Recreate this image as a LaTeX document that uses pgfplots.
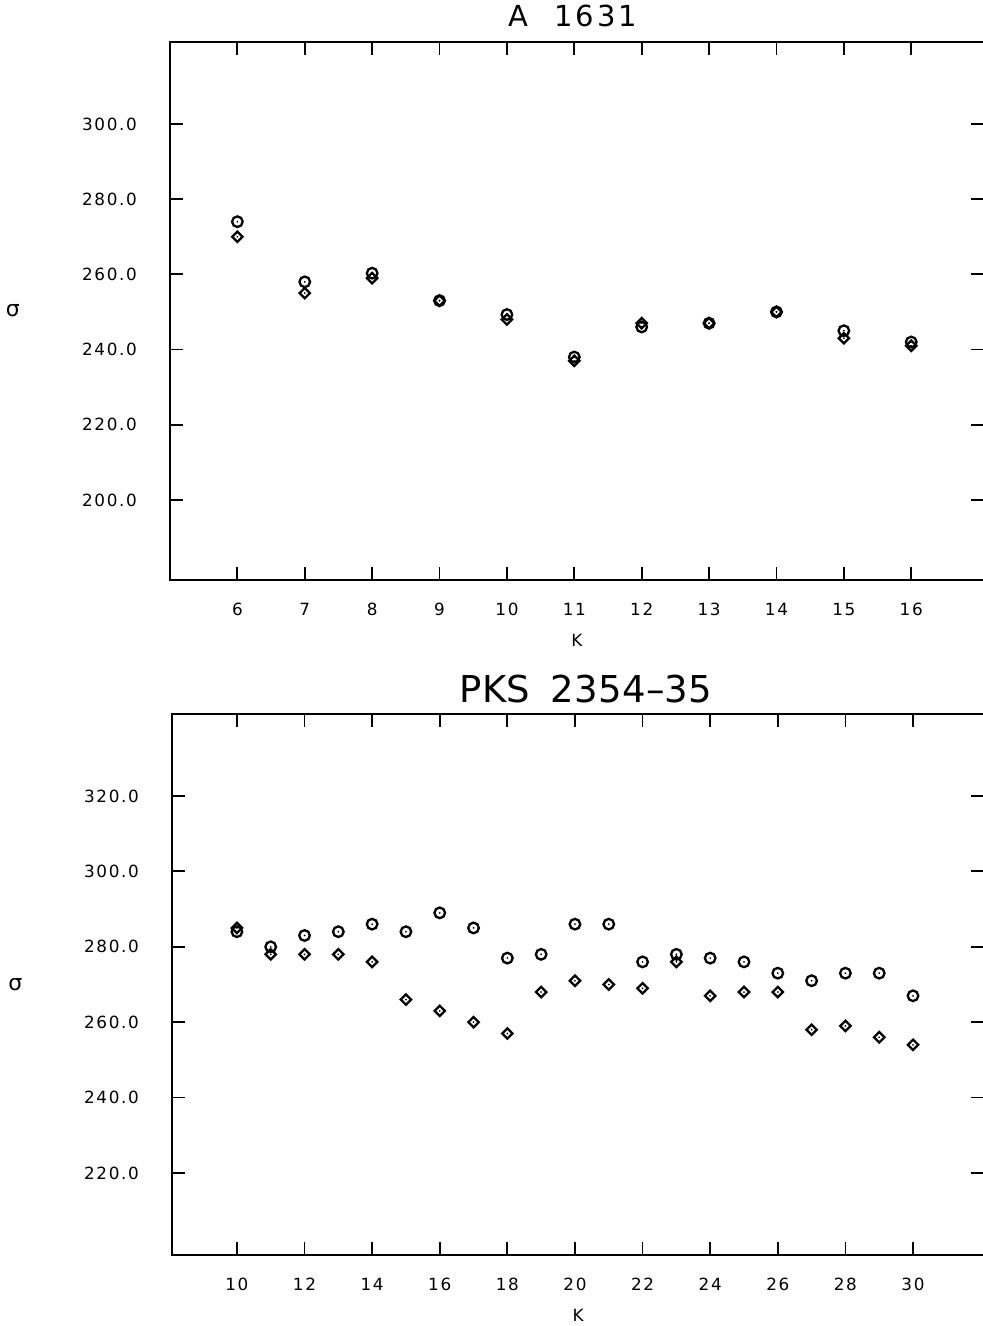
\documentclass[border=0pt]{standalone}
\usepackage{fontspec}
\setmainfont{DejaVu Sans}
\newfontfamily\tickfont[LetterSpace=10]{DejaVu Sans}
\newfontfamily\titlefontA[LetterSpace=10]{DejaVu Sans}
\newfontfamily\titlefontB[LetterSpace=1]{DejaVu Sans}
\usepackage{pgfplots}
\usepackage{pgfplotstable}
\pgfplotsset{compat=1.18}

\pgfdeclareplotmark{odot}{%
  \pgfpathcircle{\pgfpointorigin}{\pgfplotmarksize}\pgfusepathqstroke
  \pgfpathcircle{\pgfpointorigin}{0.5pt}\pgfusepathqfill}
\pgfdeclareplotmark{ddot}{%
  \pgfpathmoveto{\pgfqpoint{0pt}{\pgfplotmarksize}}%
  \pgfpathlineto{\pgfqpoint{\pgfplotmarksize}{0pt}}%
  \pgfpathlineto{\pgfqpoint{0pt}{-\pgfplotmarksize}}%
  \pgfpathlineto{\pgfqpoint{-\pgfplotmarksize}{0pt}}%
  \pgfpathclose\pgfusepathqstroke
  \pgfpathcircle{\pgfpointorigin}{0.5pt}\pgfusepathqfill}

\pgfplotstableread{
K s
6 274
7 258
8 260.3
9 253
10 249.3
11 238
12 246
13 247
14 250
15 245
16 242
}\topcirc
\pgfplotstableread{
K s
6 270
7 255
8 259
9 253
10 248
11 237
12 247
13 247
14 250
15 243
16 241
}\topdiam
\pgfplotstableread{
K s
10 284
11 280
12 283
13 284
14 286
15 284
16 289
17 285
18 277
19 278
20 286
21 286
22 276
23 278
24 277
25 276
26 273
27 271
28 273
29 273
30 267
}\botcirc
\pgfplotstableread{
K s
10 285
11 278
12 278
13 278
14 276
15 266
16 263
17 260
18 257
19 268
20 271
21 270
22 269
23 276
24 267
25 268
26 268
27 258
28 259
29 256
30 254
}\botdiam

\pgfplotsset{
  myax/.style={
    scale only axis,
    axis line style={line width=0.9pt},
    every tick/.style={line width=0.9pt, black},
    major tick length=6.5pt,
    tick align=inside,
    tick pos=both,
    ticklabel pos=left,
    minor tick num=0,
    ticklabel style={font=\tickfont\fontsize{8.4}{10}\selectfont},
    /pgf/number format/assume math mode=true,
    yticklabel style={/pgf/number format/.cd, fixed, fixed zerofill, precision=1, /tikz/.cd, xshift=-13pt},
    xticklabel style={yshift=-8pt},
    scaled y ticks=false,
    label style={font=\tickfont\fontsize{8.4}{10}\selectfont},
    xlabel={K},
    ylabel={\fontsize{11}{12}\selectfont σ},
    ylabel style={rotate=-90, anchor=center, at={(axis description cs:-0.193,0.5)}},
    xlabel style={anchor=center, at={(axis description cs:0.5,-0.1115)}},
    title style={anchor=base, inner sep=0pt, at={(axis description cs:0.5,1)}},
    circ/.style={only marks, mark=odot, mark size=2.65pt, line width=1.15pt, black},
    diam/.style={only marks, mark=ddot, mark size=2.6pt, line width=1.15pt, black},
  }
}

\begin{document}
\begin{tikzpicture}
\useasboundingbox (0,0) rectangle (491pt,663pt);
\begin{axis}[myax,
  at={(85pt,373pt)}, anchor=south west,
  width=407pt, height=269pt,
  xmin=5, xmax=17.08, ymin=178.7, ymax=321.8,
  xtick={6,7,...,16}, ytick={200,220,...,300},
  title={A\hspace{13pt}1631},
  title style={xshift=-2pt, yshift=1.5pt, font=\titlefontA\fontsize{14.5}{17}\selectfont},
]
\addplot[circ] table[x=K,y=s] {\topcirc};
\addplot[diam] table[x=K,y=s] {\topdiam};
\end{axis}
\begin{axis}[myax,
  at={(86pt,35.5pt)}, anchor=south west,
  width=406pt, height=270.5pt,
  xmin=8.08, xmax=32.1, ymin=198.25, ymax=341.75,
  xtick={10,12,...,30}, ytick={220,240,...,320},
  title={PKS\hspace{10pt}2354–35},
  title style={xshift=4pt, yshift=-0.5pt, font=\titlefontB\fontsize{18.5}{22}\selectfont},
]
\addplot[circ] table[x=K,y=s] {\botcirc};
\addplot[diam] table[x=K,y=s] {\botdiam};
\end{axis}
\end{tikzpicture}
\end{document}
